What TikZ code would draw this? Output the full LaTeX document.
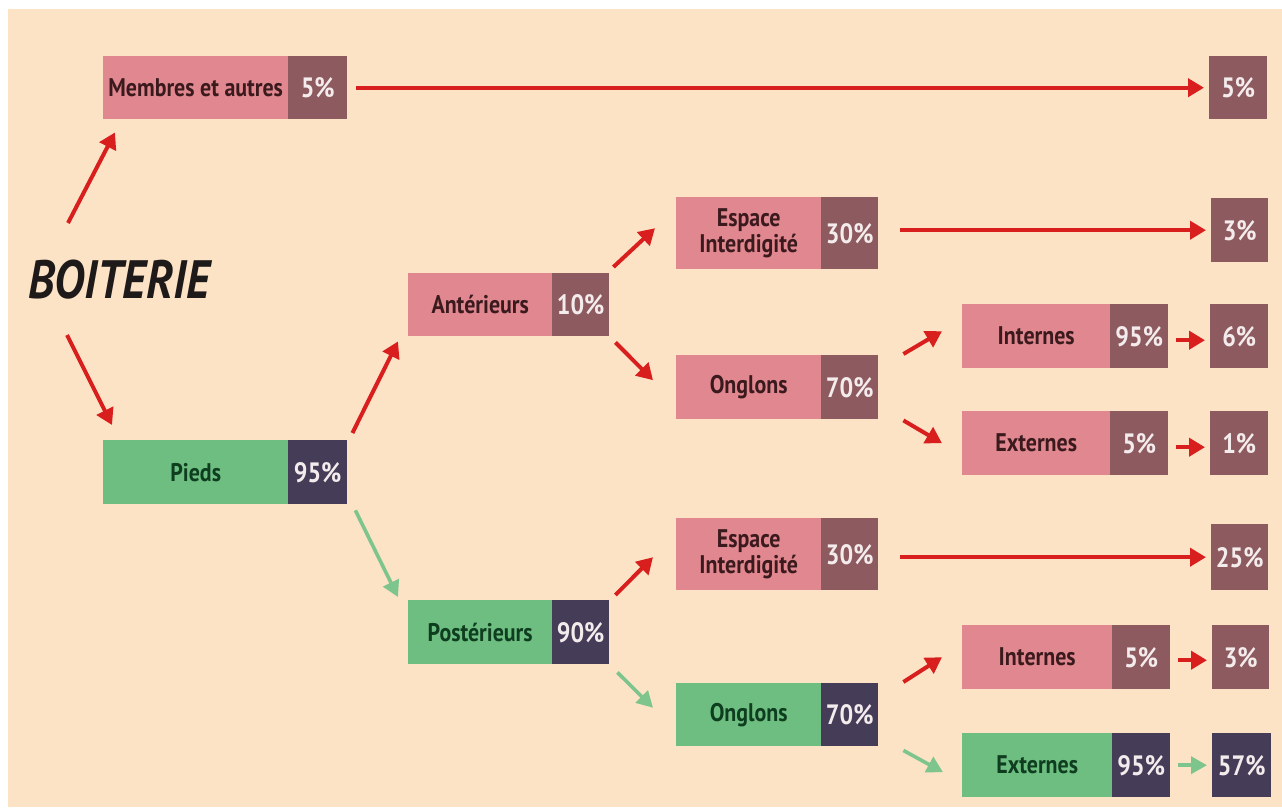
\documentclass[tikz,border=0pt]{standalone}
\usepackage{fontspec}
\setmainfont{PT Sans}[FakeStretch=0.86]
\usetikzlibrary{arrows.meta}
\definecolor{bg}{HTML}{FCE3C6}
\definecolor{pinkL}{HTML}{E0878F}
\definecolor{pinkP}{HTML}{8C5A5F}
\definecolor{greenL}{HTML}{6DBE80}
\definecolor{darkP}{HTML}{453D58}
\definecolor{redA}{HTML}{D91E1E}
\definecolor{greenA}{HTML}{7DC58C}
\definecolor{pinkT}{HTML}{3B1A1E}
\definecolor{greenT}{HTML}{0F3D1F}
\definecolor{pctT}{HTML}{F4ECEC}
\definecolor{titleT}{HTML}{1F1A1A}
\begin{document}
\begin{tikzpicture}[x=1pt,y=-1pt,
 lab/.style={anchor=north west, inner sep=0pt, font=\bfseries\fontsize{25.5}{26.5}\selectfont, align=center},
 pinklab/.style={lab, fill=pinkL, text=pinkT},
 greenlab/.style={lab, fill=greenL, text=greenT},
 pct/.style={anchor=north west, inner sep=0pt, font=\bfseries\fontsize{28}{30}\selectfont, text=pctT},
 pinkpct/.style={pct, fill=pinkP},
 darkpct/.style={pct, fill=darkP},
 ra/.style={draw=redA, line width=4pt, -{Triangle[length=16pt,width=18pt]}},
 ga/.style={draw=greenA, line width=3.6pt, -{Triangle[length=16pt,width=17pt]}},
]
\useasboundingbox (0,0) rectangle (1282,807);
\fill[white] (0,0) rectangle (1282,807);
\fill[bg] (8,9) rectangle (1282,807);

% title
\node[inner sep=0pt, font=\bfseries\itshape\fontsize{54}{54}\selectfont, text=titleT] (boit) at (119,280) {BOITERIE};

% level 1
\node[pinklab, minimum width=185pt, minimum height=63pt] (mem) at (103,56) {Membres et autres};
\node[pinkpct, minimum width=59pt, minimum height=63pt] (memp) at (288,56) {5\%};
\node[greenlab, minimum width=185pt, minimum height=64pt] (pieds) at (103,440) {Pieds};
\node[darkpct, minimum width=59pt, minimum height=64pt] (piedsp) at (288,440) {95\%};

% level 2
\node[pinklab, minimum width=144pt, minimum height=63pt] (ant) at (408,273) {Antérieurs};
\node[pinkpct, minimum width=57pt, minimum height=63pt] (antp) at (552,273) {10\%};
\node[greenlab, minimum width=144pt, minimum height=64pt] (post) at (408,600) {Postérieurs};
\node[darkpct, minimum width=57pt, minimum height=64pt] (postp) at (552,600) {90\%};

% level 3
\node[pinklab, minimum width=145pt, minimum height=72pt] (esp1) at (676,197) {Espace\\Interdigité};
\node[pinkpct, minimum width=57pt, minimum height=72pt] (esp1p) at (821,197) {30\%};
\node[pinklab, minimum width=145pt, minimum height=64pt] (ong1) at (676,355) {Onglons};
\node[pinkpct, minimum width=57pt, minimum height=64pt] (ong1p) at (821,355) {70\%};
\node[pinklab, minimum width=145pt, minimum height=72pt] (esp2) at (676,518) {Espace\\Interdigité};
\node[pinkpct, minimum width=57pt, minimum height=72pt] (esp2p) at (821,518) {30\%};
\node[greenlab, minimum width=145pt, minimum height=63pt] (ong2) at (676,683) {Onglons};
\node[darkpct, minimum width=57pt, minimum height=63pt] (ong2p) at (821,683) {70\%};

% level 4
\node[pinklab, minimum width=148pt, minimum height=64pt] (int1) at (962,304) {Internes};
\node[pinkpct, minimum width=58pt, minimum height=64pt] (int1p) at (1110,304) {95\%};
\node[pinklab, minimum width=148pt, minimum height=64pt] (ext1) at (962,411) {Externes};
\node[pinkpct, minimum width=58pt, minimum height=64pt] (ext1p) at (1110,411) {5\%};
\node[pinklab, minimum width=150pt, minimum height=64pt] (int2) at (962,625) {Internes};
\node[pinkpct, minimum width=58pt, minimum height=64pt] (int2p) at (1112,625) {5\%};
\node[greenlab, minimum width=150pt, minimum height=64pt] (ext2) at (962,733) {Externes};
\node[darkpct, minimum width=58pt, minimum height=64pt] (ext2p) at (1112,733) {95\%};

% results
\node[pinkpct, minimum width=58pt, minimum height=63pt] (r1) at (1209,56) {5\%};
\node[pinkpct, minimum width=57pt, minimum height=64pt] (r2) at (1211,198) {3\%};
\node[pinkpct, minimum width=58pt, minimum height=64pt] (r3) at (1210,304) {6\%};
\node[pinkpct, minimum width=58pt, minimum height=64pt] (r4) at (1210,411) {1\%};
\node[pinkpct, minimum width=57pt, minimum height=66pt] (r5) at (1211,524) {25\%};
\node[pinkpct, minimum width=57pt, minimum height=64pt] (r6) at (1212,625) {3\%};
\node[darkpct, minimum width=59pt, minimum height=64pt] (r7) at (1212,733) {57\%};

% connectors
\draw[ra] ([shift={(-51,-57)}]boit.center) -- ([shift={(12,13)}]mem.south west);
\draw[ra] ([shift={(-52,55)}]boit.center) -- ([shift={(9,-15)}]pieds.north west);
\draw[ra] ([shift={(5,-7)}]piedsp.north east) -- ([shift={(-10,5)}]ant.south west);
\draw[ga] ([shift={(8,6)}]piedsp.south east) -- ([shift={(-10,-3)}]post.north west);
\draw[ra] ([shift={(4,-6)}]antp.north east) -- ([shift={(-21,-5)}]esp1.west);
\draw[ra] ([shift={(6,6)}]antp.south east) -- ([shift={(-23,-7)}]ong1.west);
\draw[ra] ([shift={(6,-5)}]postp.north east) -- ([shift={(-23,3)}]esp2.west);
\draw[ga] ([shift={(8,8)}]postp.south east) -- ([shift={(-23,-7)}]ong2.west);
\draw[ra] ([shift={(25,-1)}]ong1p.north east) -- ([shift={(-20,-5)}]int1.west);
\draw[ra] ([shift={(25,1)}]ong1p.south east) -- ([shift={(-20,0)}]ext1.west);
\draw[ra] ([shift={(25,-1)}]ong2p.north east) -- ([shift={(-20,0)}]int2.west);
\draw[ga] ([shift={(25,4)}]ong2p.south east) -- ([shift={(-19,7)}]ext2.west);

\draw[ra] ([shift={(9,0)}]memp.east) -- ([shift={(-5,0)}]r1.west);
\draw[ra] ([shift={(22,-3)}]esp1p.east) -- ([shift={(-5,0)}]r2.west);
\draw[ra] ([shift={(22,3)}]esp2p.east) -- ([shift={(-5,0)}]r5.west);
\draw[ra] ([shift={(8,4)}]int1p.east) -- ([shift={(-5,4)}]r3.west);
\draw[ra] ([shift={(8,4)}]ext1p.east) -- ([shift={(-5,4)}]r4.west);
\draw[ra] ([shift={(8,3)}]int2p.east) -- ([shift={(-5,3)}]r6.west);
\draw[ga] ([shift={(8,0)}]ext2p.east) -- ([shift={(-5,0)}]r7.west);
\end{tikzpicture}
\end{document}
